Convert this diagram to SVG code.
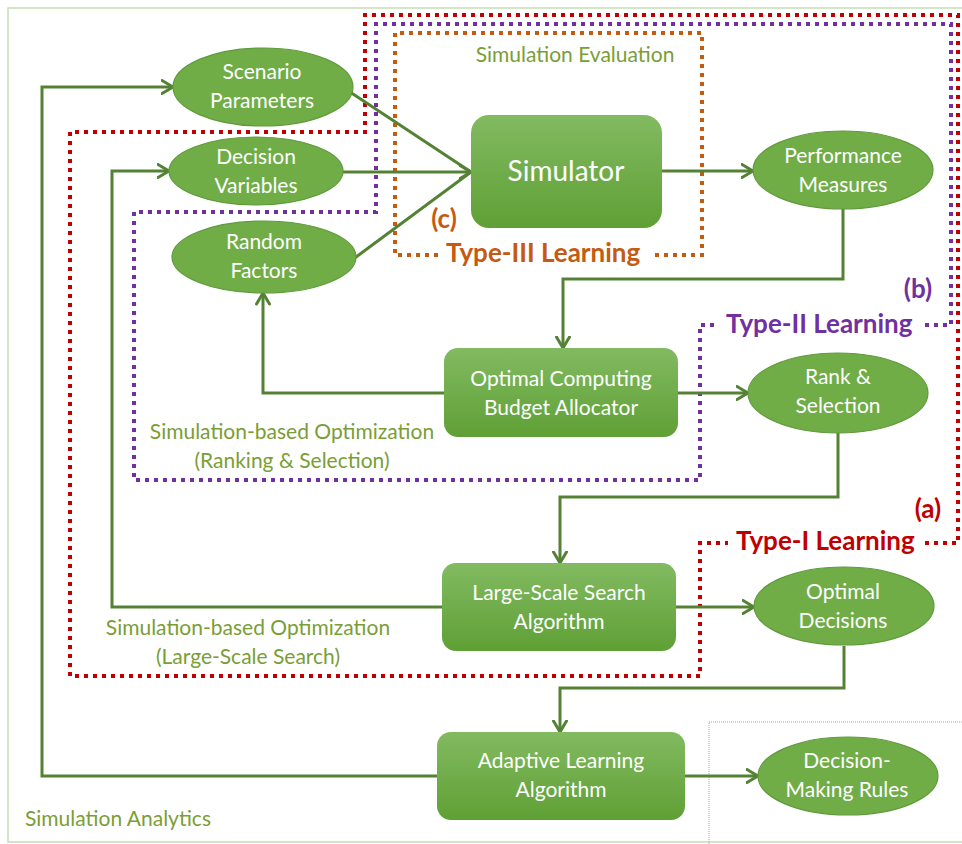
<svg xmlns="http://www.w3.org/2000/svg" width="962" height="844" viewBox="0 0 962 844">
<defs>
<linearGradient id="rg" x1="0" y1="0" x2="0" y2="1">
<stop offset="0" stop-color="#82ba61"/>
<stop offset="1" stop-color="#5fa035"/>
</linearGradient>
<marker id="ah" viewBox="0 0 14 16" refX="12.5" refY="8" markerWidth="14" markerHeight="16" markerUnits="userSpaceOnUse" orient="auto">
<path d="M1.5,1.5 L12.5,8 L1.5,14.5" fill="none" stroke="#548235" stroke-width="3" stroke-linecap="round" stroke-linejoin="round"/>
</marker>
<style>
.ell{fill:#70ad47;stroke:#5f9a3c;stroke-width:1.2}
.box{fill:url(#rg);stroke:none}
.nt{font-family:Lato,"Liberation Sans",sans-serif;font-size:21px;fill:#ffffff;text-anchor:middle}
.lab{font-family:Lato,"Liberation Sans",sans-serif;font-size:21px;fill:#7a9e35}
.mid{text-anchor:middle}
.con{fill:none;stroke:#548235;stroke-width:3}
.dot{fill:none;stroke-width:4;stroke-dasharray:4 5}
.tl{font-family:Lato,"Liberation Sans",sans-serif;font-size:26px;font-weight:bold}
</style>
</defs>
<rect width="962" height="844" fill="#ffffff"/>
<rect x="8" y="8" width="960" height="834" fill="none" stroke="#c6dcb8" stroke-width="1.5"/>
<path d="M709,844 V722 H962" fill="none" stroke="#a6a6a6" stroke-width="1" stroke-dasharray="1 1"/>

<g id="regions">
<path class="dot" stroke="#c00000" d="M925,543 H958 V15 H365 V132 H70 V676 H700 V543 H728"/>
<path class="dot" stroke="#7030a0" d="M925,325 H951 V24 H376 V212 H134 V480 H700 V325 H716"/>
<path class="dot" stroke="#c55a11" d="M655,255 H702 V33 H395 V255 H440"/>
<text class="tl" x="446" y="262" fill="#c55a11">Type-III Learning</text>
<text class="tl" x="726" y="333" fill="#7030a0">Type-II Learning</text>
<text class="tl" x="736" y="550" fill="#c00000">Type-I Learning</text>
<text class="tl mid" x="444" y="228" fill="#c55a11">(c)</text>
<text class="tl mid" x="918" y="298" fill="#7030a0">(b)</text>
<text class="tl mid" x="928" y="518" fill="#c00000">(a)</text>
<text class="lab mid" x="575" y="62">Simulation Evaluation</text>
<text class="lab mid" x="292" y="439">Simulation-based Optimization</text>
<text class="lab mid" x="292" y="468">(Ranking &amp; Selection)</text>
<text class="lab mid" x="248" y="635">Simulation-based Optimization</text>
<text class="lab mid" x="248" y="664">(Large-Scale Search)</text>
<text class="lab" x="25" y="826">Simulation Analytics</text>
</g>

<g id="connectors">
<path class="con" d="M437,776 H42 V87 H173" marker-end="url(#ah)"/>
<path class="con" d="M442,607 H112 V171 H169" marker-end="url(#ah)"/>
<path class="con" d="M444,393 H263 V293" marker-end="url(#ah)"/>
<path class="con" d="M350,92 L471,172"/>
<path class="con" d="M352,260 L471,172"/>
<path class="con" d="M343,172 H471" marker-end="url(#ah)"/>
<path class="con" d="M662,171 H753" marker-end="url(#ah)"/>
<path class="con" d="M843,209 V279 H563 V348" marker-end="url(#ah)"/>
<path class="con" d="M678,393 H748" marker-end="url(#ah)"/>
<path class="con" d="M838,432 V497 H560 V563" marker-end="url(#ah)"/>
<path class="con" d="M676,607 H754" marker-end="url(#ah)"/>
<path class="con" d="M844,646 V688 H560 V732" marker-end="url(#ah)"/>
<path class="con" d="M685,776 H758" marker-end="url(#ah)"/>
</g>

<g id="scenario">
<ellipse class="ell" cx="263" cy="87" rx="90" ry="39"/>
<text class="nt" x="262" y="79">Scenario</text>
<text class="nt" x="262" y="108">Parameters</text>
</g>
<g id="decision-variables">
<ellipse class="ell" cx="256" cy="171" rx="87" ry="34"/>
<text class="nt" x="256" y="164">Decision</text>
<text class="nt" x="256" y="193">Variables</text>
</g>
<g id="random-factors">
<ellipse class="ell" cx="264" cy="257" rx="92" ry="36"/>
<text class="nt" x="264" y="249">Random</text>
<text class="nt" x="264" y="278">Factors</text>
</g>
<g id="simulator">
<rect class="box" x="471" y="115" width="191" height="113" rx="18"/>
<text class="nt" x="566" y="181" style="font-size:28px">Simulator</text>
</g>
<g id="performance">
<ellipse class="ell" cx="843" cy="170" rx="90" ry="39"/>
<text class="nt" x="843" y="163">Performance</text>
<text class="nt" x="843" y="192">Measures</text>
</g>
<g id="ocba">
<rect class="box" x="444" y="348" width="234" height="89" rx="14"/>
<text class="nt" x="561" y="386">Optimal Computing</text>
<text class="nt" x="561" y="415">Budget Allocator</text>
</g>
<g id="rank">
<ellipse class="ell" cx="838" cy="393" rx="90" ry="40"/>
<text class="nt" x="838" y="384">Rank &amp;</text>
<text class="nt" x="838" y="413">Selection</text>
</g>
<g id="lss">
<rect class="box" x="442" y="563" width="234" height="88" rx="14"/>
<text class="nt" x="559" y="600">Large-Scale Search</text>
<text class="nt" x="559" y="629">Algorithm</text>
</g>
<g id="optimal-decisions">
<ellipse class="ell" cx="844" cy="606" rx="90" ry="39"/>
<text class="nt" x="843" y="599">Optimal</text>
<text class="nt" x="843" y="628">Decisions</text>
</g>
<g id="adaptive">
<rect class="box" x="437" y="732" width="248" height="88" rx="14"/>
<text class="nt" x="561" y="768">Adaptive Learning</text>
<text class="nt" x="561" y="797">Algorithm</text>
</g>
<g id="dmr">
<ellipse class="ell" cx="848" cy="776" rx="90" ry="39"/>
<text class="nt" x="847" y="768">Decision-</text>
<text class="nt" x="847" y="797">Making Rules</text>
</g>
</svg>
